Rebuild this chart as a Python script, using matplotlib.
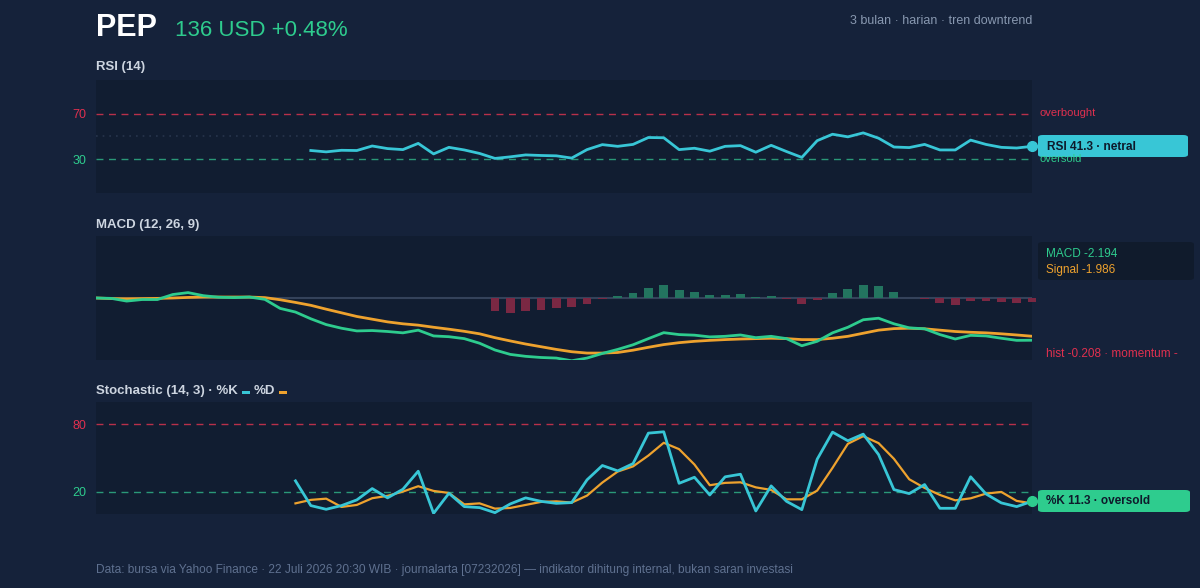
import matplotlib
matplotlib.use('Agg')
import matplotlib.pyplot as plt
import numpy as np
from matplotlib.patches import FancyBboxPatch, Rectangle

plt.rcParams['font.family'] = ['Liberation Sans', 'DejaVu Sans']

# ---------------- data ----------------
n_points = 62
ticker = "PEP"
price_text = "136 USD +0.48%"
subtitle = "3 bulan · harian · tren downtrend"
footer = ("Data: bursa via Yahoo Finance · 22 Juli 2026 20:30 WIB · journalarta [07232026]"
          " — indikator dihitung internal, bukan saran investasi")

rsi_start = 14
rsi_vals = [37.6, 36.4, 37.8, 37.6, 41.6, 39.3, 38.4, 43.9, 34.6, 40.4, 38.1, 35.0,
            30.6, 32.0, 33.7, 33.2, 32.9, 30.9, 38.4, 42.8, 41.3, 43.0, 49.1, 48.9,
            38.4, 39.6, 37.0, 41.3, 41.9, 36.1, 42.2, 36.7, 31.5, 46.3, 52.0, 49.7,
            53.2, 48.5, 40.7, 40.2, 43.0, 38.1, 38.1, 46.8, 43.0, 40.4, 39.8, 41.3]
rsi_levels = [30, 70]

macd_vals = [0.0, -0.02, -0.16, -0.08, -0.08, 0.18, 0.28, 0.12, 0.04, 0.02, 0.05, -0.07,
             -0.54, -0.73, -1.08, -1.38, -1.57, -1.71, -1.69, -1.74, -1.81, -1.67, -1.97,
             -2.01, -2.11, -2.35, -2.70, -2.93, -3.03, -3.09, -3.12, -3.26, -3.12, -2.88,
             -2.67, -2.43, -2.11, -1.80, -1.90, -1.93, -2.02, -1.99, -1.92, -2.06, -1.99,
             -2.11, -2.48, -2.25, -1.81, -1.52, -1.13, -1.05, -1.34, -1.55, -1.60, -1.90,
             -2.13, -1.94, -1.97, -2.09, -2.20, -2.194]
signal_vals = [0.0, -0.03, -0.04, -0.03, -0.02, 0.0, 0.03, 0.05, 0.05, 0.05, 0.05, 0.02,
               -0.09, -0.23, -0.38, -0.58, -0.77, -0.96, -1.10, -1.24, -1.34, -1.41, -1.52,
               -1.62, -1.73, -1.86, -2.06, -2.23, -2.39, -2.53, -2.67, -2.79, -2.86, -2.86,
               -2.83, -2.71, -2.56, -2.42, -2.32, -2.25, -2.20, -2.16, -2.13, -2.11, -2.09,
               -2.11, -2.16, -2.16, -2.09, -1.99, -1.83, -1.67, -1.59, -1.57, -1.60, -1.67,
               -1.74, -1.78, -1.81, -1.86, -1.92, -1.986]
hist_start = 26
hist_vals = [-0.70, -0.77, -0.68, -0.61, -0.52, -0.49, -0.29, -0.03, 0.12, 0.28, 0.51,
             0.65, 0.42, 0.31, 0.16, 0.18, 0.19, 0.03, 0.09, -0.03, -0.33, -0.08, 0.28,
             0.45, 0.66, 0.61, 0.30, 0.02, -0.03, -0.28, -0.37, -0.16, -0.14, -0.21,
             -0.28, -0.208]

stoch_start = 13
k_vals = [29.6, 7.5, 4.2, 7.5, 12.6, 22.7, 14.4, 22.1, 38.2, 0.6, 18.5, 6.6, 5.7, 1.2,
          9.0, 14.4, 11.3, 9.5, 10.2, 30.5, 43.3, 38.5, 45.0, 72.2, 73.4, 27.4, 32.8,
          17.0, 33.2, 35.5, 2.7, 25.1, 11.3, 3.9, 48.9, 73.1, 65.4, 71.3, 53.1, 21.8,
          18.2, 26.3, 5.1, 5.1, 33.2, 17.9, 9.9, 6.6, 11.3]
d_vals = [9.5, 12.6, 13.7, 6.3, 8.1, 14.1, 16.2, 20.0, 24.8, 20.6, 18.8, 8.6, 9.5, 4.8,
          5.4, 8.1, 10.8, 11.3, 10.2, 16.4, 28.1, 37.9, 42.5, 52.2, 63.6, 57.9, 44.2,
          25.7, 27.8, 28.3, 23.8, 21.5, 13.1, 13.1, 20.9, 41.2, 62.7, 69.5, 63.3, 49.3,
          31.0, 23.3, 17.0, 12.2, 14.0, 18.2, 19.7, 11.7, 9.5]
stoch_levels = [20, 80]

# ---------------- style ----------------
W, H = 1200, 588
BG = '#15223a'
PANEL = '#111d31'
CYAN = '#38c6d6'
GREEN = '#2ecc8e'
ORANGE = '#eea22e'
RED = '#e0304f'
RED_LINE = '#b8304a'
GREEN_LINE = '#2a9878'
TITLE_C = '#cdd5e0'
MUTED = '#8898b0'
FOOT = '#5f7190'
DARK = '#0e1a2b'


def fx(x):
    return x / W


def fy(y):
    return 1 - y / H


def axes_rect(x0, y0, x1, y1):
    return [fx(x0), fy(y1), fx(x1) - fx(x0), (y1 - y0) / H]


fig = plt.figure(figsize=(W / 100, H / 100), dpi=100, facecolor=BG)

x_all = np.arange(n_points)
xmax = n_points - 1


def style_axes(ax):
    ax.set_facecolor(PANEL)
    for s in ax.spines.values():
        s.set_visible(False)
    ax.set_xlim(0, xmax)
    ax.set_xticks([])
    ax.tick_params(axis='y', length=0, pad=7, labelsize=9)


def label_box(x0, y0, x1, y1, color, z=3):
    b = FancyBboxPatch((fx(x0), fy(y1)), fx(x1) - fx(x0), (y1 - y0) / H,
                       boxstyle="round,pad=0,rounding_size=0.004", transform=fig.transFigure,
                       facecolor=color, edgecolor='none', zorder=z)
    fig.patches.append(b)


# ---------------- header ----------------
fig.text(fx(96), fy(28), ticker, color='white', fontsize=22, fontweight='bold',
         va='center', ha='left')
fig.text(fx(175), fy(31), price_text, color=GREEN, fontsize=16, va='center', ha='left')
fig.text(fx(1032), fy(21), subtitle, color=MUTED, fontsize=9, va='center', ha='right')

# ---------------- RSI ----------------
ax1 = fig.add_axes(axes_rect(96, 80, 1032, 193))
style_axes(ax1)
ax1.set_ylim(0, 100)
rsi_x = np.arange(rsi_start, rsi_start + len(rsi_vals))
ax1.axhline(70, color=RED_LINE, ls=(0, (5, 4)), lw=1)
ax1.axhline(30, color=GREEN_LINE, ls=(0, (5, 4)), lw=1)
ax1.axhline(50, color='#27354c', ls=(0, (1, 3)), lw=1.2)
ax1.plot(rsi_x, rsi_vals, color=CYAN, lw=2, solid_joinstyle='round')
ax1.plot(rsi_x[-1], rsi_vals[-1], 'o', color=CYAN, ms=7, clip_on=False, zorder=5)
ax1.set_yticks(rsi_levels)
ax1.set_yticklabels([str(v) for v in rsi_levels])
ax1.get_yticklabels()[0].set_color(GREEN)
ax1.get_yticklabels()[1].set_color(RED)
fig.text(fx(96), fy(67), "RSI (14)", color=TITLE_C, fontsize=9.5, fontweight='bold',
         va='center', ha='left')
fig.text(fx(1040), fy(113), "overbought", color=RED, fontsize=8, va='center', ha='left')
fig.text(fx(1040), fy(159), "oversold", color=GREEN, fontsize=8, va='center', ha='left')
label_box(1038, 135, 1188, 157, CYAN)
fig.text(fx(1047), fy(146.5), "RSI 41.3 · netral", color=DARK, fontsize=8.6, fontweight='bold',
         va='center', ha='left', zorder=4)

# ---------------- MACD ----------------
ax2 = fig.add_axes(axes_rect(96, 236, 1032, 360))
style_axes(ax2)
ax2.set_ylim(-3.22, 3.22)
ax2.set_yticks([])
ax2.axhline(0, color='#34425a', lw=1.5, zorder=1)
hx = np.arange(hist_start, hist_start + len(hist_vals))
hv = np.array(hist_vals)
hcol = np.where(hv >= 0, '#23745f', '#7a2843')
ax2.bar(hx, hv, width=0.58, color=hcol, zorder=2, clip_on=False)
ax2.plot(x_all, signal_vals, color=ORANGE, lw=2, zorder=3)
ax2.plot(x_all, macd_vals, color=GREEN, lw=2, zorder=4)
fig.text(fx(96), fy(225), "MACD (12, 26, 9)", color=TITLE_C, fontsize=9.5, fontweight='bold',
         va='center', ha='left')
label_box(1038, 242, 1194, 280, '#101b2c')
fig.text(fx(1046), fy(254), "MACD -2.194", color=GREEN, fontsize=8.5, va='center', ha='left')
fig.text(fx(1046), fy(270), "Signal -1.986", color=ORANGE, fontsize=8.5, va='center', ha='left')
fig.text(fx(1046), fy(354), "hist -0.208 · momentum -", color=RED, fontsize=8.5,
         va='center', ha='left')

# ---------------- Stochastic ----------------
ax3 = fig.add_axes(axes_rect(96, 402, 1032, 514))
style_axes(ax3)
ax3.set_ylim(0, 100)
sx = np.arange(stoch_start, stoch_start + len(k_vals))
ax3.axhline(80, color=RED_LINE, ls=(0, (5, 4)), lw=1)
ax3.axhline(20, color=GREEN_LINE, ls=(0, (5, 4)), lw=1)
ax3.plot(sx, d_vals, color=ORANGE, lw=1.6, zorder=3)
ax3.plot(sx, k_vals, color=CYAN, lw=2, zorder=4)
ax3.plot(sx[-1], k_vals[-1], 'o', color=GREEN, ms=7, clip_on=False, zorder=5)
ax3.set_yticks(stoch_levels)
ax3.set_yticklabels([str(v) for v in stoch_levels])
ax3.get_yticklabels()[0].set_color(GREEN)
ax3.get_yticklabels()[1].set_color(RED)

label_box(1038, 490, 1190, 512, GREEN)
fig.text(fx(1046), fy(501), "%K 11.3 · oversold", color=DARK, fontsize=8.5, fontweight='bold',
         va='center', ha='left', zorder=4)

# title with colored key dashes
renderer = fig.canvas.get_renderer()
xcur = 96.0
for txt, col in [("Stochastic (14, 3) · %K", TITLE_C), (None, CYAN), ("%D", TITLE_C), (None, ORANGE)]:
    if txt is None:
        xcur += 4
        fig.patches.append(Rectangle((fx(xcur), fy(393.5)), fx(8), 2.6 / H,
                                     transform=fig.transFigure, facecolor=col,
                                     edgecolor='none'))
        xcur += 8 + 4
    else:
        t = fig.text(fx(xcur), fy(391), txt, color=col, fontsize=9.5, fontweight='bold',
                     va='center', ha='left')
        xcur += t.get_window_extent(renderer=renderer).width

# ---------------- footer ----------------
fig.text(fx(96), fy(570), footer, color=FOOT, fontsize=8.57, va='center', ha='left')

fig.savefig('out.png', dpi=100, facecolor=BG)
